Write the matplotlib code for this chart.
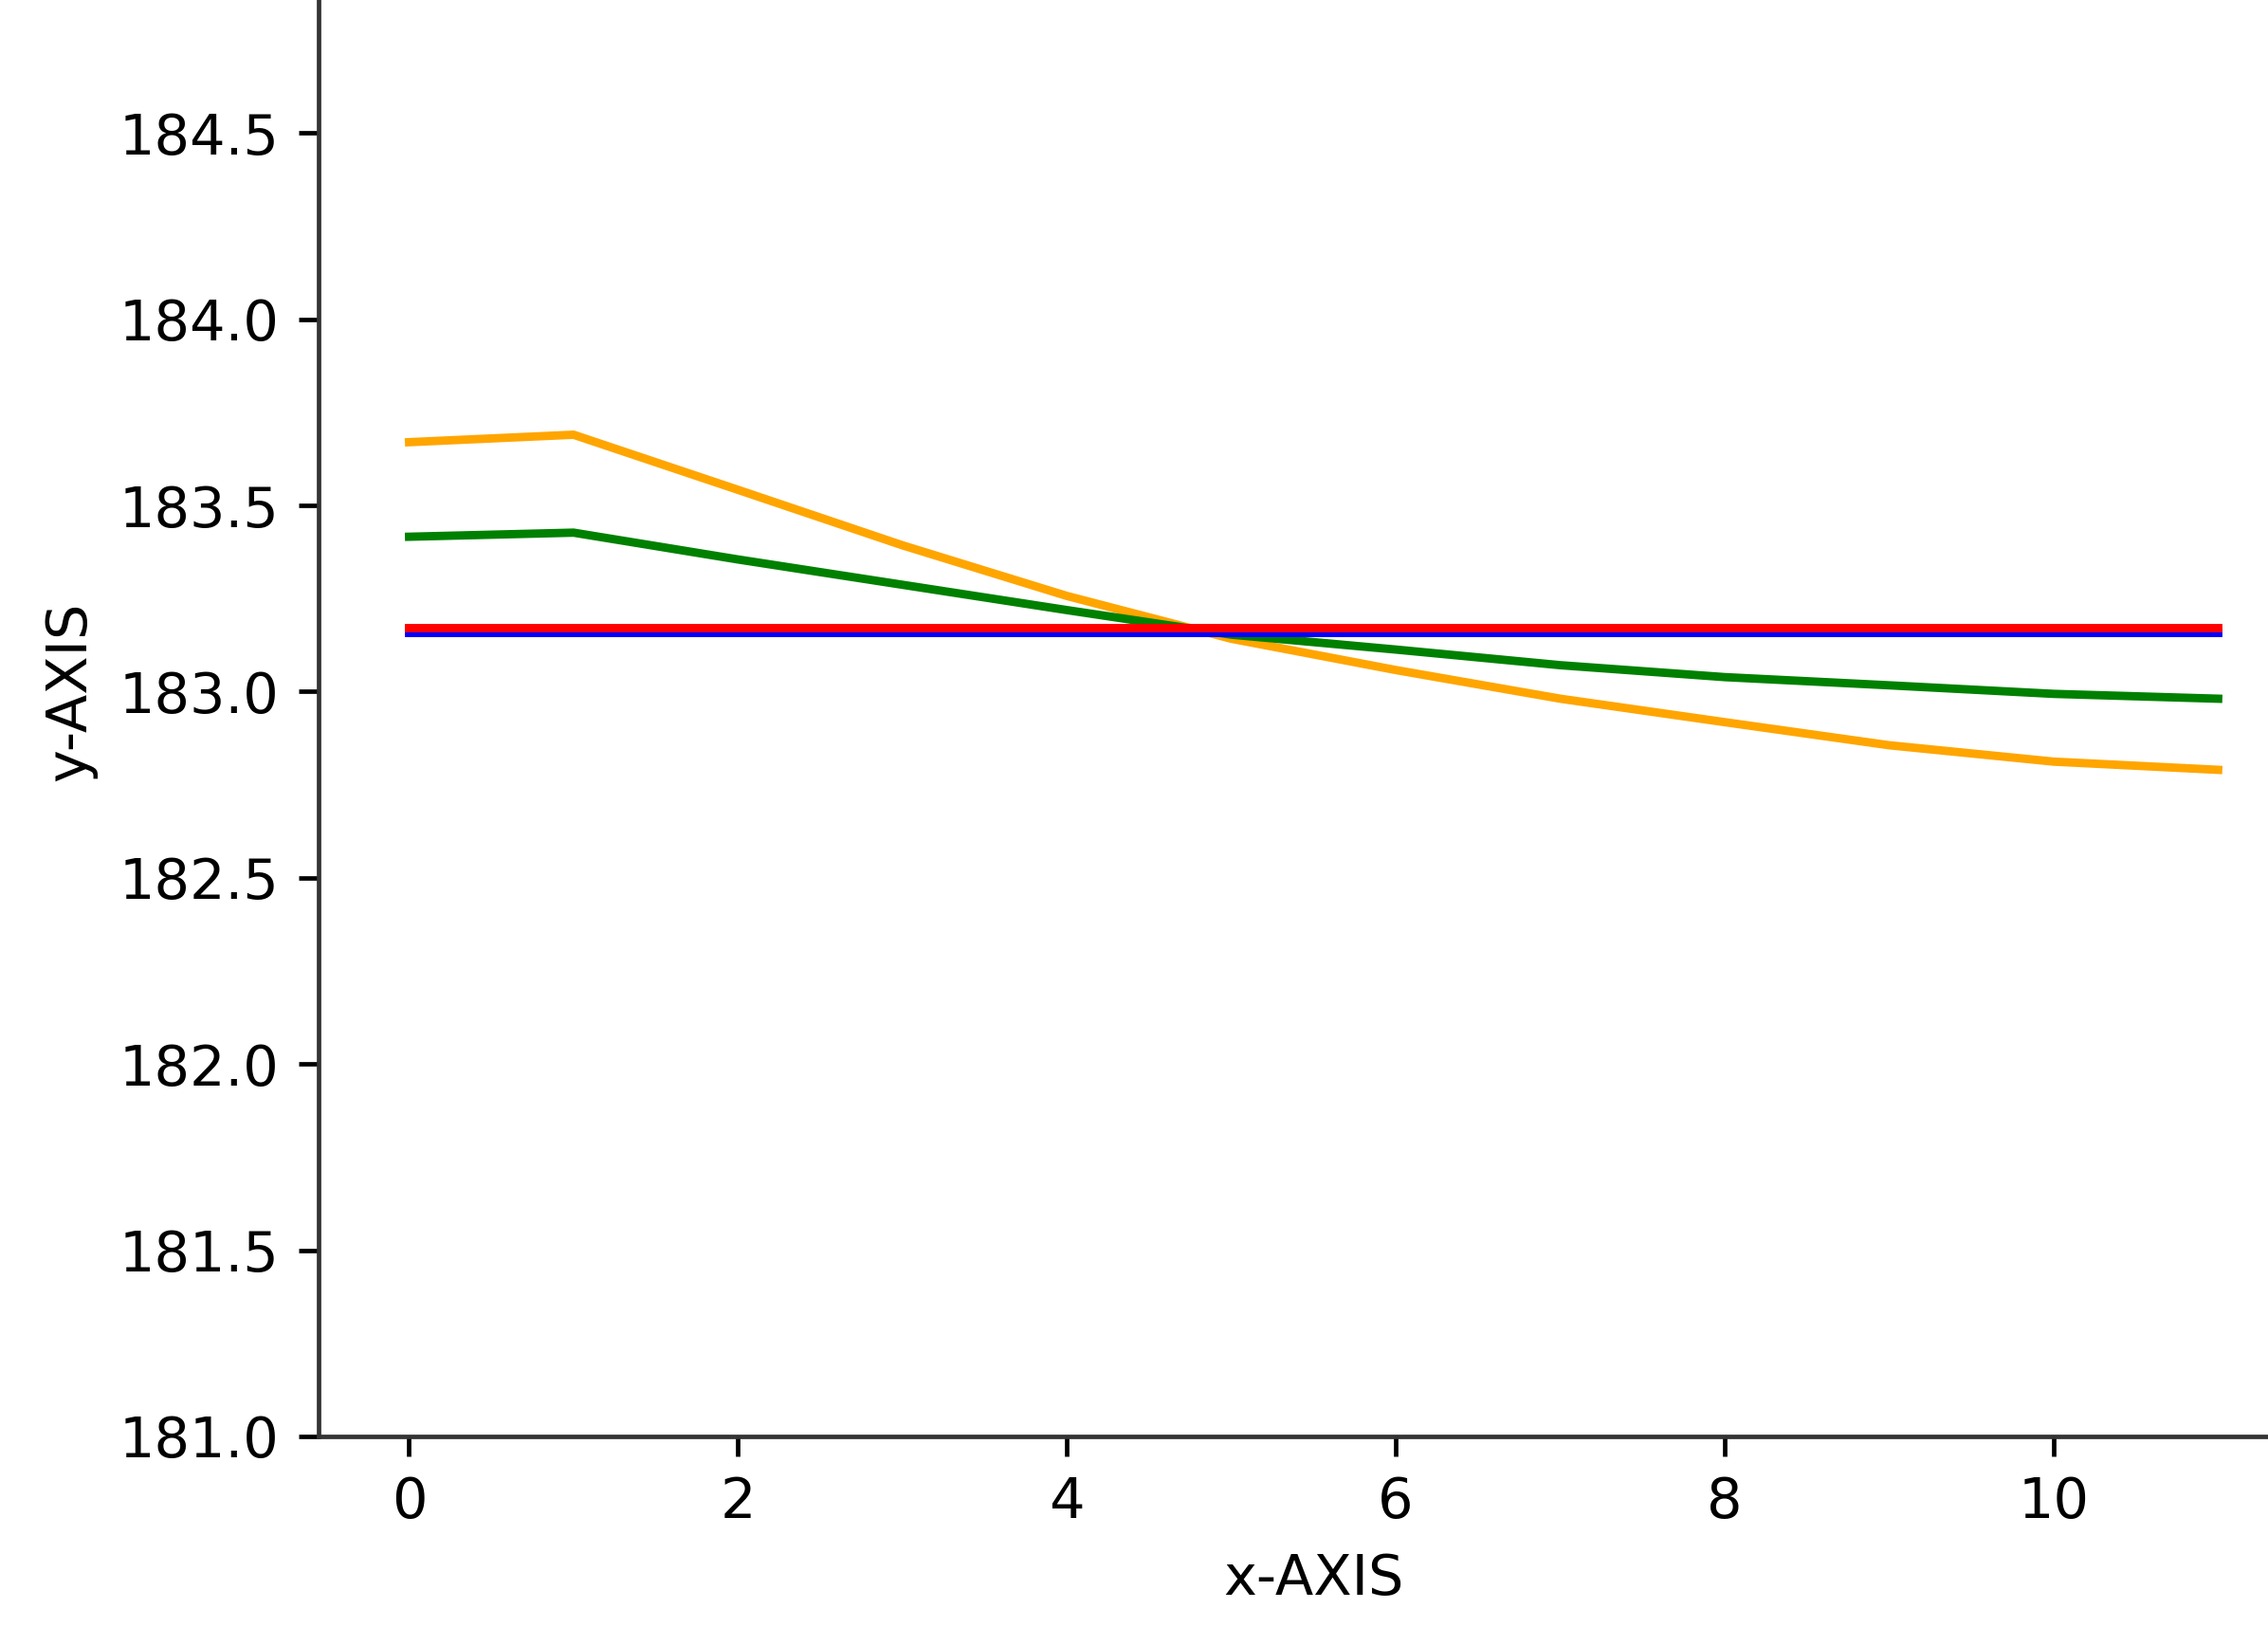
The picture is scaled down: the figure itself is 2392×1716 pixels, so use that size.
import matplotlib
matplotlib.use("Agg")
import matplotlib.pyplot as plt

# valeurs
x_vals = list(range(12))
orange_vals = [183.670, 183.690, 183.542, 183.393, 183.257, 183.142,
               183.058, 182.981, 182.918, 182.856, 182.812, 182.790]
green_vals = [183.416, 183.427, 183.355, 183.287, 183.219, 183.153,
              183.113, 183.071, 183.039, 183.017, 182.994, 182.981]
blue_vals = [183.158] * 12
red_vals = [183.172] * 12

x_ticks = [0, 2, 4, 6, 8, 10]
y_ticks = [181.0, 181.5, 182.0, 182.5, 183.0, 183.5, 184.0, 184.5]

dpi = 425
fig = plt.figure(figsize=(2392 / dpi, 1716 / dpi), dpi=dpi)
ax = fig.add_axes([0.1405, 0.1172, 0.8774, 0.9154])

ax.plot(x_vals, orange_vals, color="orange")
ax.plot(x_vals, green_vals, color="green")
ax.plot(x_vals, blue_vals, color="blue")
ax.plot(x_vals, red_vals, color="red")

ax.set_xlim(-0.55, 11.55)
ax.set_ylim(181, 185)
ax.set_xticks(x_ticks)
ax.set_yticks(y_ticks)
ax.set_xlabel("x-AXIS")
ax.set_ylabel("y-AXIS")

for s in ax.spines.values():
    s.set_color("#333333")

fig.savefig("out.png", dpi=dpi)
